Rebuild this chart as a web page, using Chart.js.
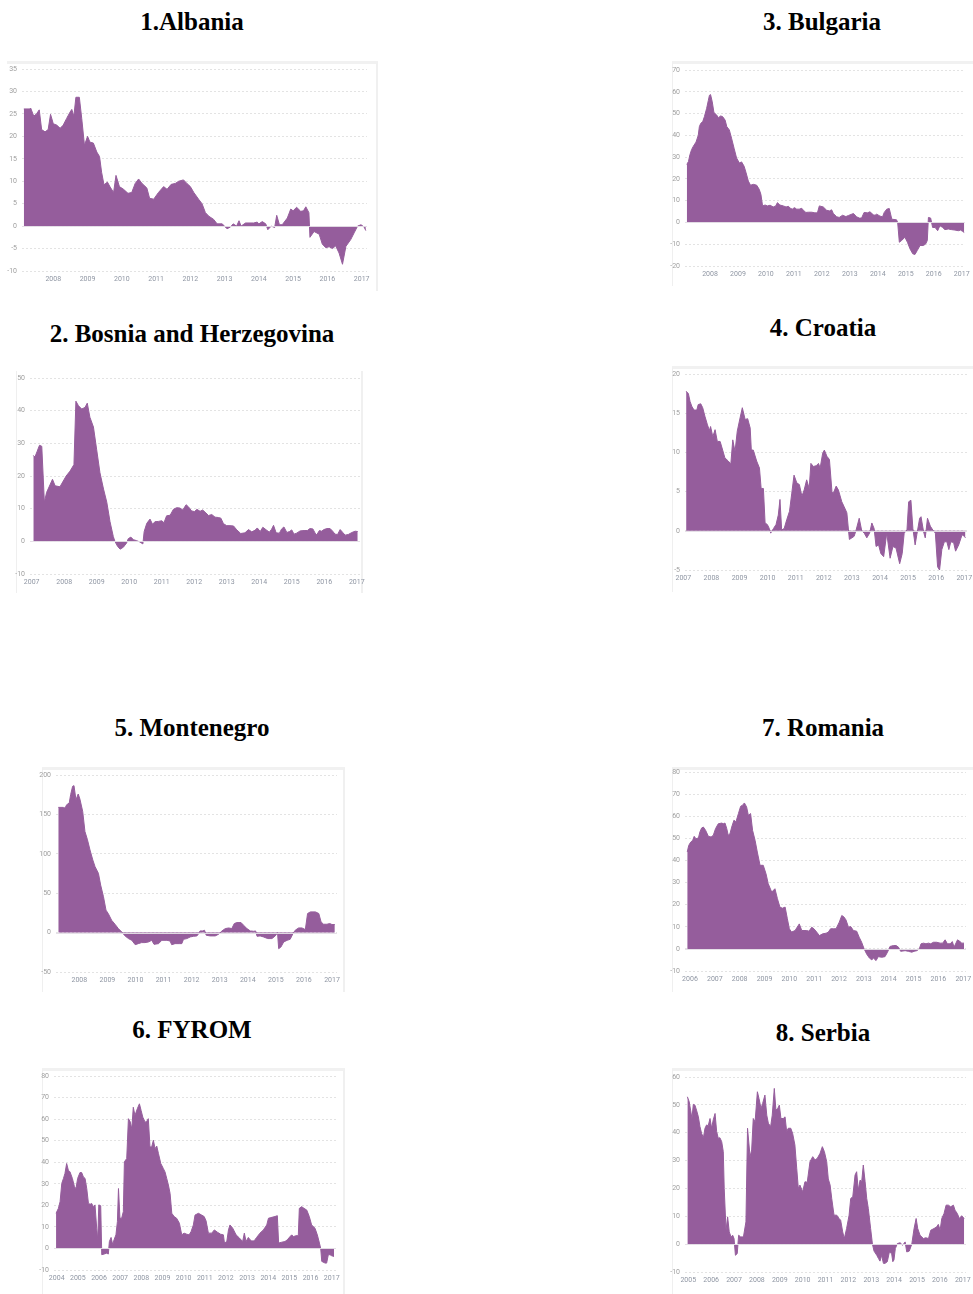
<!DOCTYPE html>
<html>
<head>
<meta charset="utf-8">
<title>Credit growth, Western Balkans and neighbours</title>
<script src="https://cdn.jsdelivr.net/npm/chart.js@4.4.0/dist/chart.umd.min.js"></script>
<style>
  body { margin: 0; background: #fff; width: 973px; height: 1294px; position: relative; overflow: hidden; }
  .title { position: absolute; width: 380px; text-align: center; font: bold 25px "Liberation Serif", "Times New Roman", serif; line-height: 24px; color: #000; }
  .frame { position: absolute; box-sizing: border-box; }
  canvas { position: absolute; }
</style>
</head>
<body>
<div id="page"></div>
<script>
// [year, value] pairs
const albaniaSeries = [[2007.14,26.1],[2007.32,26.1],[2007.34,26.3],[2007.43,24.5],[2007.51,25],[2007.59,25.9],[2007.66,21.5],[2007.76,21],[2007.85,21.5],[2007.92,24.9],[2008.00,22.8],[2008.10,22.5],[2008.20,21.8],[2008.29,22.5],[2008.39,24],[2008.49,25.4],[2008.54,26],[2008.60,24.5],[2008.66,28.7],[2008.76,28.7],[2008.83,24],[2008.91,18],[2009.00,20],[2009.07,18.7],[2009.17,18.5],[2009.27,16.5],[2009.35,15.5],[2009.41,12],[2009.48,9.2],[2009.58,9.8],[2009.66,8.7],[2009.76,7.5],[2009.83,11.3],[2009.93,8.8],[2010.05,8.2],[2010.18,7.3],[2010.29,7.5],[2010.39,9.5],[2010.49,10.5],[2010.59,9.5],[2010.73,8.5],[2010.81,6.2],[2010.93,6],[2011.07,7.5],[2011.22,8.8],[2011.32,8.2],[2011.44,9.3],[2011.56,9.5],[2011.66,10],[2011.80,10.3],[2011.90,9.5],[2012.00,8.8],[2012.10,7.5],[2012.24,6],[2012.34,5],[2012.44,3],[2012.54,2.2],[2012.68,1.5],[2012.78,0.5],[2012.93,0.5],[2013.07,-0.6],[2013.17,-0.2],[2013.25,0.5],[2013.35,0],[2013.42,1.2],[2013.48,0],[2013.61,0.7],[2013.85,0.7],[2013.95,0.9],[2014.00,0.5],[2014.10,1.0],[2014.20,0.5],[2014.26,-0.8],[2014.36,0],[2014.46,-0.3],[2014.52,2.4],[2014.60,0.3],[2014.68,0.3],[2014.83,1.8],[2014.93,3.8],[2015.00,3.4],[2015.10,4.2],[2015.22,3.3],[2015.30,3.4],[2015.37,4.3],[2015.46,3],[2015.49,-2.5],[2015.61,-1.2],[2015.76,-1.8],[2015.85,-4],[2015.95,-4.8],[2016.05,-4.6],[2016.15,-5],[2016.24,-4.4],[2016.34,-6],[2016.44,-8.5],[2016.54,-4.5],[2016.68,-3],[2016.78,-1.5],[2016.88,0],[2016.98,0.3],[2017.07,-0.2],[2017.12,-1.0]];

const bulgariaSeries = [[2007.17,26.6],[2007.23,28],[2007.28,31],[2007.34,33.4],[2007.40,34.9],[2007.50,36.9],[2007.58,40],[2007.62,44],[2007.67,45.5],[2007.74,46.3],[2007.80,48.6],[2007.88,52.4],[2007.94,56],[2007.98,58.4],[2008.02,58.7],[2008.08,55.4],[2008.14,50.5],[2008.24,49.3],[2008.30,48.1],[2008.38,48.9],[2008.45,48.6],[2008.54,47],[2008.60,44],[2008.69,42.5],[2008.77,38.7],[2008.86,34.1],[2008.95,29.6],[2009.05,27.3],[2009.13,27.8],[2009.22,25.8],[2009.29,22.8],[2009.37,19],[2009.45,17.1],[2009.55,17.5],[2009.67,17.1],[2009.76,15.2],[2009.82,12.9],[2009.88,7.6],[2009.97,8],[2010.05,7.6],[2010.15,7.9],[2010.26,7.1],[2010.35,7.6],[2010.41,9.1],[2010.50,8],[2010.62,7.6],[2010.72,7.1],[2010.80,7.4],[2010.88,6.5],[2010.94,6.1],[2011.02,6.8],[2011.10,6.1],[2011.19,6.1],[2011.28,6.5],[2011.36,5.3],[2011.43,4.6],[2011.52,4.7],[2011.64,4.7],[2011.75,4.4],[2011.84,4.4],[2011.91,7.6],[2012.05,7.1],[2012.17,5.6],[2012.27,5.3],[2012.35,5.8],[2012.41,4.1],[2012.53,2.6],[2012.62,2.3],[2012.74,3.3],[2012.86,2.7],[2012.95,3.2],[2013.13,4.1],[2013.24,2.6],[2013.34,2],[2013.42,2],[2013.51,4.6],[2013.63,4.4],[2013.72,4.9],[2013.84,3.5],[2013.90,3.3],[2013.96,3.8],[2014.08,2.9],[2014.17,2.6],[2014.23,4.6],[2014.32,6.1],[2014.41,6.4],[2014.50,1.5],[2014.67,1.2],[2014.71,0],[2014.77,-9.1],[2014.85,-8.3],[2014.97,-6.8],[2015.06,-9.1],[2015.15,-12.1],[2015.25,-14.4],[2015.33,-14.7],[2015.41,-12.9],[2015.51,-10.6],[2015.63,-10.6],[2015.71,-9.9],[2015.77,-8.3],[2015.81,2.3],[2015.89,2],[2015.96,-2.3],[2016.05,-2.3],[2016.14,-3.8],[2016.22,-1.5],[2016.32,-2.3],[2016.40,-3.3],[2016.52,-3],[2016.64,-3.3],[2016.76,-3.5],[2016.88,-3.8],[2016.96,-3.5],[2017.03,-4.1],[2017.09,-4.6]];

const bosniaSeries = [[2007.05,26.3],[2007.10,25.8],[2007.17,27.6],[2007.24,29.4],[2007.31,29.1],[2007.39,12],[2007.46,15],[2007.64,19],[2007.72,17],[2007.87,16.7],[2008.06,20],[2008.18,21.5],[2008.30,23.5],[2008.36,42.9],[2008.44,41.5],[2008.54,40.5],[2008.64,41],[2008.71,42.3],[2008.79,38],[2008.90,35],[2009.00,28],[2009.10,21],[2009.21,16],[2009.31,12],[2009.41,6],[2009.51,1.5],[2009.56,0],[2009.64,-1.5],[2009.72,-2.4],[2009.82,-1.8],[2009.92,-0.5],[2009.97,0.8],[2010.05,1.3],[2010.13,0.5],[2010.23,0.2],[2010.33,-0.2],[2010.42,-0.8],[2010.46,3],[2010.54,5.5],[2010.64,6.8],[2010.72,5.2],[2010.79,6],[2010.90,6.1],[2011.00,6.3],[2011.07,5.7],[2011.15,7.8],[2011.26,8],[2011.36,9.8],[2011.46,10.3],[2011.56,10.2],[2011.65,9.6],[2011.75,11.2],[2011.82,10.6],[2011.92,9.3],[2012.01,9.1],[2012.08,9.8],[2012.18,9.2],[2012.26,9.6],[2012.36,8.7],[2012.44,7.9],[2012.54,8.2],[2012.64,7.4],[2012.74,7.3],[2012.82,7.1],[2012.90,5.4],[2013.00,4.8],[2013.10,4.8],[2013.21,4.7],[2013.31,3.5],[2013.43,2.4],[2013.56,2.6],[2013.67,3.6],[2013.77,2.9],[2013.87,3.4],[2013.94,4.1],[2014.03,3],[2014.11,4.3],[2014.23,3.4],[2014.31,2.8],[2014.38,3.7],[2014.44,4.9],[2014.52,2.6],[2014.62,2.5],[2014.69,3.8],[2014.76,4.4],[2014.85,2.7],[2014.93,3],[2015.00,3.5],[2015.07,2.2],[2015.15,2.5],[2015.26,3.2],[2015.38,3.3],[2015.48,3.3],[2015.56,3.9],[2015.65,3.8],[2015.72,2.5],[2015.77,2],[2015.85,3.3],[2015.92,3.1],[2015.99,3.6],[2016.08,3.9],[2016.18,3.9],[2016.26,3.1],[2016.33,2.2],[2016.41,2.1],[2016.49,3.6],[2016.57,2.7],[2016.64,1.9],[2016.74,2.1],[2016.85,2.7],[2016.95,3.1],[2017.03,3]];

const croatiaSeries = [[2007.10,17.8],[2007.18,17.5],[2007.24,16.5],[2007.30,15.9],[2007.38,15.4],[2007.48,15.4],[2007.53,16.1],[2007.62,16.2],[2007.69,15.7],[2007.77,14.6],[2007.86,13.5],[2007.93,12.8],[2007.97,13.3],[2008.05,12],[2008.13,12.9],[2008.21,11.4],[2008.31,11.4],[2008.40,10.3],[2008.48,9.3],[2008.60,8.9],[2008.69,8.5],[2008.76,11.6],[2008.84,10.1],[2008.92,12.7],[2009.02,14.4],[2009.10,15.7],[2009.20,14.2],[2009.29,14.3],[2009.38,13.1],[2009.42,10.3],[2009.49,10.3],[2009.61,8.9],[2009.71,8],[2009.77,5.4],[2009.85,5.4],[2009.91,1],[2009.99,0.8],[2010.06,0.3],[2010.11,-0.3],[2010.21,0.3],[2010.30,0.8],[2010.38,2],[2010.44,4],[2010.50,0.1],[2010.59,0.3],[2010.68,1.4],[2010.78,2.5],[2010.86,4.8],[2010.94,7.1],[2011.04,6.1],[2011.13,5.9],[2011.22,4.4],[2011.30,5.2],[2011.39,6.5],[2011.48,5.4],[2011.54,8.6],[2011.63,8.2],[2011.73,8.3],[2011.81,8.6],[2011.87,8],[2011.96,9.9],[2012.02,10.3],[2012.11,9.5],[2012.20,9.1],[2012.29,5],[2012.34,4.8],[2012.44,5.7],[2012.52,5.2],[2012.64,3.7],[2012.72,3.1],[2012.82,2.3],[2012.91,-1.1],[2013.00,-0.9],[2013.08,-0.7],[2013.15,0.1],[2013.26,1.6],[2013.35,0],[2013.44,-0.3],[2013.53,-0.9],[2013.63,-0.3],[2013.71,1],[2013.79,0.3],[2013.86,-2],[2013.95,-1.8],[2014.03,-2.9],[2014.13,-3.3],[2014.24,-0.3],[2014.36,-3.5],[2014.46,-2],[2014.57,-2.2],[2014.70,-4.2],[2014.79,-2.9],[2014.86,-0.3],[2014.96,0.1],[2015.02,3.7],[2015.10,3.9],[2015.17,0.3],[2015.25,-1.8],[2015.31,-0.5],[2015.41,1.6],[2015.46,1.8],[2015.55,-0.1],[2015.61,-0.9],[2015.69,1.6],[2015.79,0.6],[2015.88,0.1],[2015.97,-0.3],[2016.05,-4.6],[2016.12,-5],[2016.20,-2.4],[2016.29,-1.4],[2016.38,-1.4],[2016.45,-2.4],[2016.52,-1.4],[2016.62,-1.5],[2016.69,-2.6],[2016.80,-1.8],[2016.92,-0.5],[2017.00,-0.7],[2017.04,-0.9]];

const montenegroSeries = [[2007.25,158.9],[2007.43,158.9],[2007.49,158],[2007.55,162.3],[2007.64,164.4],[2007.69,175],[2007.76,185.6],[2007.81,186.5],[2007.88,168.6],[2007.96,175.9],[2008.02,169.5],[2008.12,153.8],[2008.20,128.3],[2008.29,117.7],[2008.38,104.9],[2008.48,92.2],[2008.56,83.7],[2008.68,75.2],[2008.76,60.3],[2008.86,45.5],[2008.95,28.5],[2009.03,24.2],[2009.15,15.7],[2009.27,10.6],[2009.39,5.1],[2009.51,0.8],[2009.63,-4.2],[2009.75,-7.6],[2009.87,-9.8],[2009.99,-15.3],[2010.10,-14],[2010.22,-12.7],[2010.34,-12.7],[2010.46,-11.9],[2010.58,-9.8],[2010.66,-14.9],[2010.82,-14],[2010.94,-9.8],[2011.12,-9.8],[2011.23,-10.6],[2011.29,-15.3],[2011.41,-14],[2011.57,-14],[2011.65,-14],[2011.71,-8.5],[2011.83,-7.6],[2011.95,-5.5],[2012.07,-4.7],[2012.19,-4.2],[2012.25,-1.3],[2012.30,2.1],[2012.40,2.1],[2012.46,3],[2012.52,-3.4],[2012.66,-4.2],[2012.84,-4.2],[2012.96,-2.1],[2013.08,2.1],[2013.20,5.1],[2013.32,5.9],[2013.43,5.1],[2013.52,11.5],[2013.61,12.7],[2013.76,12.7],[2013.85,9.3],[2013.97,5.1],[2014.09,2.1],[2014.21,1.7],[2014.28,2.1],[2014.33,-4.7],[2014.44,-4.2],[2014.56,-5.5],[2014.71,-7.6],[2014.86,-7.6],[2014.98,-4.2],[2015.06,0],[2015.10,-20.4],[2015.18,-18.3],[2015.28,-11.9],[2015.40,-9.8],[2015.51,-8.5],[2015.61,-1.3],[2015.69,3],[2015.81,5.9],[2015.93,5.9],[2016.05,3.8],[2016.13,24.2],[2016.23,26.3],[2016.41,26.3],[2016.53,24.2],[2016.61,13.6],[2016.70,10.6],[2016.82,10.6],[2016.92,11.5],[2017.00,10.2],[2017.10,10.2]];

const romaniaSeries = [[2005.89,43.8],[2005.95,46.8],[2006.03,48.3],[2006.11,49.1],[2006.17,50.9],[2006.24,49.8],[2006.34,50.2],[2006.40,52.9],[2006.47,54.7],[2006.54,55.1],[2006.63,53.6],[2006.74,50.9],[2006.85,50.6],[2006.94,51.4],[2007.03,54.4],[2007.14,56.6],[2007.28,56.9],[2007.34,56.6],[2007.41,56.9],[2007.48,54.4],[2007.54,51.4],[2007.61,52.1],[2007.68,55.1],[2007.77,58.2],[2007.85,57.4],[2007.95,61.2],[2008.04,64.5],[2008.12,65],[2008.19,66],[2008.28,64.2],[2008.35,60.4],[2008.44,61.2],[2008.52,53.6],[2008.62,49.1],[2008.71,43.8],[2008.82,37.8],[2008.95,37.8],[2009.06,34],[2009.15,29.5],[2009.29,25.7],[2009.42,27.2],[2009.52,22.7],[2009.62,18.9],[2009.72,18.4],[2009.83,18.9],[2009.92,13.6],[2010.00,9.1],[2010.09,7.6],[2010.23,8.3],[2010.40,11.3],[2010.50,8.3],[2010.59,8.3],[2010.70,8.3],[2010.79,8],[2010.90,9.8],[2010.99,9.1],[2011.10,7.6],[2011.21,6],[2011.34,6.8],[2011.48,7.1],[2011.57,7.6],[2011.66,9.1],[2011.77,9.1],[2011.88,9.1],[2012.01,12.1],[2012.11,15.1],[2012.20,14.4],[2012.28,13.1],[2012.38,9.8],[2012.47,10.1],[2012.58,8.3],[2012.71,8],[2012.81,5.3],[2012.91,3],[2013.01,0],[2013.11,-2.3],[2013.22,-4.1],[2013.32,-5],[2013.38,-4.1],[2013.49,-5.3],[2013.58,-3.5],[2013.72,-3.8],[2013.85,-3.5],[2013.95,-1.5],[2014.05,1.1],[2014.19,1.5],[2014.30,1.5],[2014.39,0.8],[2014.48,-1.1],[2014.66,-0.8],[2014.79,-1.1],[2014.93,-1.5],[2015.02,-1.1],[2015.13,-0.8],[2015.23,0],[2015.30,2.3],[2015.40,2.6],[2015.50,2.3],[2015.60,2.6],[2015.69,2.3],[2015.80,3],[2015.93,3],[2016.07,2.6],[2016.17,2.6],[2016.27,4.1],[2016.36,2.3],[2016.47,2.3],[2016.56,3.3],[2016.63,0.8],[2016.77,4.1],[2016.87,3.3],[2016.94,2.6],[2017.03,2.6]];

const fyromSeries = [[2003.97,16.3],[2004.08,18.6],[2004.16,21.7],[2004.24,30.2],[2004.32,32.5],[2004.39,34.8],[2004.47,39.4],[2004.55,36.3],[2004.63,35.5],[2004.74,32.5],[2004.84,28.6],[2004.91,27.8],[2004.99,32.5],[2005.10,35.2],[2005.18,35.2],[2005.26,33.2],[2005.34,32.5],[2005.42,27.8],[2005.50,20.9],[2005.58,20.5],[2005.65,20.9],[2005.73,19.4],[2005.81,20.2],[2005.89,9.4],[2005.94,4],[2005.99,20.2],[2006.08,19.8],[2006.13,-2.9],[2006.24,-2.6],[2006.36,-2.2],[2006.44,-2.6],[2006.49,3.2],[2006.57,5.1],[2006.65,1.7],[2006.71,4],[2006.80,6.3],[2006.87,12.5],[2006.92,27.8],[2006.99,14],[2007.07,14],[2007.15,17.1],[2007.20,40.2],[2007.31,41.7],[2007.39,60.2],[2007.47,58.9],[2007.55,55.5],[2007.62,65.5],[2007.70,61.7],[2007.81,64.8],[2007.91,67.1],[2007.99,64],[2008.07,60.9],[2008.18,58.6],[2008.25,58.9],[2008.33,60.2],[2008.41,47.1],[2008.49,47.1],[2008.57,50.2],[2008.65,46.3],[2008.73,47.5],[2008.81,44],[2008.92,39.4],[2009.04,37.1],[2009.12,35.5],[2009.20,32.5],[2009.28,29.4],[2009.36,25.5],[2009.44,16.3],[2009.55,14.8],[2009.67,14],[2009.80,11.7],[2009.91,6.3],[2010.02,7.1],[2010.15,6.6],[2010.26,6.3],[2010.35,7.8],[2010.46,10.9],[2010.54,15.5],[2010.70,16.3],[2010.85,15.5],[2010.97,14.8],[2011.06,12.8],[2011.17,7.1],[2011.33,7.1],[2011.45,8.6],[2011.60,7.5],[2011.75,6.6],[2011.88,6.3],[2011.93,2.5],[2012.04,3.2],[2012.12,8.6],[2012.19,10.9],[2012.32,9.4],[2012.48,6.3],[2012.64,4.8],[2012.79,3.2],[2012.87,7.1],[2012.95,3.2],[2013.06,5.1],[2013.14,4],[2013.22,3.5],[2013.33,3.5],[2013.45,5.1],[2013.61,7.1],[2013.77,8.6],[2013.93,10.9],[2014.01,14],[2014.12,14.3],[2014.32,14.8],[2014.43,15.2],[2014.49,2.5],[2014.64,2.9],[2014.79,3.2],[2014.90,4],[2015.03,5.5],[2015.11,6.3],[2015.19,5.5],[2015.35,6],[2015.42,5.8],[2015.47,18.6],[2015.58,19.4],[2015.69,18.6],[2015.82,17.8],[2015.94,14.8],[2016.05,10.9],[2016.21,9.4],[2016.32,6.3],[2016.42,2.5],[2016.48,0],[2016.53,-6],[2016.69,-6.8],[2016.76,-6.8],[2016.84,-2.9],[2016.92,-2.9],[2017.00,-3.4],[2017.11,-3.7]];

const serbiaSeries = [[2004.96,52.9],[2005.04,51.1],[2005.10,48.1],[2005.16,45.1],[2005.22,50.2],[2005.29,49.9],[2005.36,48.1],[2005.44,45.7],[2005.51,42.2],[2005.58,39.8],[2005.66,38.2],[2005.73,41.6],[2005.80,42.8],[2005.87,42.5],[2005.95,45.1],[2006.02,41.6],[2006.09,44.6],[2006.17,46.9],[2006.24,40.4],[2006.31,38],[2006.38,38.2],[2006.46,36.8],[2006.53,33.2],[2006.57,20],[2006.65,5],[2006.72,9.8],[2006.79,4.4],[2006.87,2.6],[2006.94,3.2],[2007.00,2],[2007.06,-4],[2007.14,-3.4],[2007.20,3.2],[2007.29,2.6],[2007.41,2.6],[2007.52,8],[2007.59,41.6],[2007.70,31.4],[2007.77,33.8],[2007.84,45.1],[2007.92,43.9],[2008.02,54.7],[2008.09,52.3],[2008.18,48.7],[2008.25,50.5],[2008.35,53.5],[2008.43,46.3],[2008.50,43.4],[2008.60,42.2],[2008.67,46.3],[2008.76,55.9],[2008.83,48.1],[2008.91,48.7],[2008.98,49.9],[2009.05,45.1],[2009.15,45.1],[2009.23,45.7],[2009.30,40.4],[2009.37,41.6],[2009.48,41.6],[2009.56,39.8],[2009.66,35.6],[2009.74,27.2],[2009.81,20],[2009.88,21.2],[2010.00,18.8],[2010.10,22.4],[2010.20,22.2],[2010.32,29.6],[2010.44,31.4],[2010.54,30.2],[2010.64,30.8],[2010.76,32.6],[2010.86,35],[2010.95,33.2],[2011.05,29.6],[2011.12,23.4],[2011.20,21.2],[2011.27,16.4],[2011.37,10.4],[2011.49,10.4],[2011.59,9.2],[2011.66,8.6],[2011.75,4.4],[2011.82,2],[2011.92,5.6],[2012.03,10.4],[2012.10,16.4],[2012.19,17],[2012.29,24.8],[2012.36,26],[2012.43,19.4],[2012.51,23],[2012.58,22.4],[2012.65,28.4],[2012.73,22.4],[2012.80,16.4],[2012.87,12.8],[2012.97,5.6],[2013.05,0],[2013.12,-2.5],[2013.24,-4],[2013.31,-5.1],[2013.38,-6.1],[2013.45,-4],[2013.53,-6.9],[2013.60,-6.9],[2013.70,-6.3],[2013.79,-2.8],[2013.89,-3.4],[2013.94,-6.3],[2013.99,-5.7],[2014.05,-1.6],[2014.14,0.2],[2014.26,0.5],[2014.37,-0.4],[2014.48,0.8],[2014.55,-2.8],[2014.66,-2.5],[2014.77,0],[2014.87,5.6],[2014.96,9.2],[2015.03,5.6],[2015.13,3.2],[2015.28,2],[2015.38,2.3],[2015.50,2],[2015.60,5],[2015.74,5.6],[2015.86,6.2],[2015.93,7.1],[2016.01,5],[2016.08,9.2],[2016.18,11],[2016.27,14],[2016.37,14],[2016.47,13.4],[2016.59,14],[2016.66,12.2],[2016.76,11],[2016.85,9.2],[2016.95,10.2],[2017.06,9.2]];

// tick labels
const albaniaYears = [2008, 2009, 2010, 2011, 2012, 2013, 2014, 2015, 2016, 2017];
const bulgariaYears = [2008, 2009, 2010, 2011, 2012, 2013, 2014, 2015, 2016, 2017];
const bosniaYears = [2007, 2008, 2009, 2010, 2011, 2012, 2013, 2014, 2015, 2016, 2017];
const croatiaYears = [2007, 2008, 2009, 2010, 2011, 2012, 2013, 2014, 2015, 2016, 2017];
const montenegroYears = [2008, 2009, 2010, 2011, 2012, 2013, 2014, 2015, 2016, 2017];
const romaniaYears = [2006, 2007, 2008, 2009, 2010, 2011, 2012, 2013, 2014, 2015, 2016, 2017];
const fyromYears = [2004, 2005, 2006, 2007, 2008, 2009, 2010, 2011, 2012, 2013, 2014, 2015, 2016, 2017];
const serbiaYears = [2005, 2006, 2007, 2008, 2009, 2010, 2011, 2012, 2013, 2014, 2015, 2016, 2017];

const albaniaTicks = [-10, -5, 0, 5, 10, 15, 20, 25, 30, 35];
const bulgariaTicks = [-20, -10, 0, 10, 20, 30, 40, 50, 60, 70];
const bosniaTicks = [-10, 0, 10, 20, 30, 40, 50];
const croatiaTicks = [-5, 0, 5, 10, 15, 20];
const montenegroTicks = [-50, 0, 50, 100, 150, 200];
const romaniaTicks = [-10, 0, 10, 20, 30, 40, 50, 60, 70, 80];
const fyromTicks = [-10, 0, 10, 20, 30, 40, 50, 60, 70, 80];
const serbiaTicks = [-10, 0, 10, 20, 30, 40, 50, 60];

const titles = ["1.Albania", "3. Bulgaria", "2. Bosnia and Herzegovina", "4. Croatia", "5. Montenegro", "7. Romania", "6. FYROM", "8. Serbia"];

const purple = "#955d9c";

// layout of each panel on the page; frame edges: t=top band, l=left, r=right
const panels = [
	{ title: titles[0], cx: 192, cy: 22, frame: [7, 61, 371, 230], edges: "tr", series: albaniaSeries, years: albaniaYears, ticks: albaniaTicks, xMin: 2007.087, xMax: 2017.155, left: 7, plotLeft: 22, plotRight: 367, plotTop: 69, plotBottom: 271 },
	{ title: titles[1], cx: 822, cy: 22, frame: [672, 61, 303, 225], edges: "tl", series: bulgariaSeries, years: bulgariaYears, ticks: bulgariaTicks, xMin: 2007.106, xMax: 2017.118, left: 668, plotLeft: 685, plotRight: 965, plotTop: 70, plotBottom: 266 },
	{ title: titles[2], cx: 192, cy: 334, frame: [16, 371, 347, 222], edges: "lr", series: bosniaSeries, years: bosniaYears, ticks: bosniaTicks, xMin: 2006.948, xMax: 2017.10, left: 12, plotLeft: 30, plotRight: 360, plotTop: 378, plotBottom: 574 },
	{ title: titles[3], cx: 823, cy: 328, frame: [672, 366, 303, 226], edges: "tl", series: croatiaSeries, years: croatiaYears, ticks: croatiaTicks, xMin: 2007.06, xMax: 2017.096, left: 668, plotLeft: 685, plotRight: 967, plotTop: 374, plotBottom: 570 },
	{ title: titles[4], cx: 192, cy: 728, frame: [42, 767, 303, 225], edges: "tlr", series: montenegroSeries, years: montenegroYears, ticks: montenegroTicks, xMin: 2007.169, xMax: 2017.178, left: 38, plotLeft: 56, plotRight: 337, plotTop: 775, plotBottom: 972 },
	{ title: titles[5], cx: 823, cy: 728, frame: [672, 767, 303, 225], edges: "tl", series: romaniaSeries, years: romaniaYears, ticks: romaniaTicks, xMin: 2005.80, xMax: 2017.11, left: 668, plotLeft: 685, plotRight: 966, plotTop: 772, plotBottom: 971 },
	{ title: titles[6], cx: 192, cy: 1030, frame: [42, 1068, 303, 226], edges: "tlr", series: fyromSeries, years: fyromYears, ticks: fyromTicks, xMin: 2003.872, xMax: 2017.203, left: 38, plotLeft: 54, plotRight: 336, plotTop: 1076, plotBottom: 1270 },
	{ title: titles[7], cx: 823, cy: 1033, frame: [672, 1068, 303, 226], edges: "tl", series: serbiaSeries, years: serbiaYears, ticks: serbiaTicks, xMin: 2004.856, xMax: 2017.14, left: 668, plotLeft: 685, plotRight: 966, plotTop: 1077, plotBottom: 1272 }
];

// light zero line drawn over the filled area
const zeroLine = {
	id: "zeroLine",
	afterDatasetsDraw(chart) {
		const ctx = chart.ctx;
		const y = Math.round(chart.scales.y.getPixelForValue(0)) + 0.5;
		ctx.save();
		ctx.strokeStyle = "rgba(228,222,230,0.95)";
		ctx.lineWidth = 1;
		ctx.beginPath();
		ctx.moveTo(chart.chartArea.left, y);
		ctx.lineTo(chart.chartArea.right, y);
		ctx.stroke();
		ctx.restore();
	}
};

const page = document.getElementById("page");
const PAD_TOP = 10, PAD_RIGHT = 10, X_AXIS_H = 16;

panels.forEach(function (p) {
	const t = document.createElement("div");
	t.className = "title";
	t.textContent = p.title;
	t.style.left = (p.cx - 190) + "px";
	t.style.top = (p.cy - 12) + "px";
	page.appendChild(t);

	const f = document.createElement("div");
	f.className = "frame";
	f.style.left = p.frame[0] + "px";
	f.style.top = p.frame[1] + "px";
	f.style.width = p.frame[2] + "px";
	f.style.height = p.frame[3] + "px";
	if (p.edges.includes("t")) f.style.borderTop = "3px solid #f1f1f1";
	if (p.edges.includes("l")) f.style.borderLeft = "1px solid #efefef";
	if (p.edges.includes("r")) f.style.borderRight = "2px solid #f0f0f0";
	page.appendChild(f);

	const top = p.plotTop - PAD_TOP;
	const canvas = document.createElement("canvas");
	canvas.width = p.plotRight + PAD_RIGHT - p.left;
	canvas.height = p.plotBottom + X_AXIS_H - top;
	canvas.style.left = p.left + "px";
	canvas.style.top = top + "px";
	page.appendChild(canvas);

	new Chart(canvas.getContext("2d"), {
		type: "line",
		data: {
			datasets: [{
				data: p.series.map((d) => ({ x: d[0], y: d[1] })),
				fill: "origin",
				backgroundColor: purple,
				borderColor: purple,
				borderWidth: 1,
				pointRadius: 0,
				tension: 0
			}]
		},
		options: {
			responsive: false,
			animation: false,
			events: [],
			layout: { padding: { top: PAD_TOP, right: PAD_RIGHT, left: 0, bottom: 0 } },
			plugins: { legend: { display: false }, tooltip: { enabled: false } },
			scales: {
				x: {
					type: "linear",
					min: p.xMin,
					max: p.xMax,
					afterBuildTicks: (s) => { s.ticks = p.years.map((v) => ({ value: v })); },
					afterFit: (s) => { s.height = X_AXIS_H; },
					grid: { display: false, drawTicks: false },
					border: { display: false },
					ticks: { autoSkip: false, maxRotation: 0, padding: 4, color: "#8f96a3", font: { family: "Roboto", size: 7 }, callback: (v) => String(v) }
				},
				y: {
					min: p.ticks[0],
					max: p.ticks[p.ticks.length - 1],
					afterBuildTicks: (s) => { s.ticks = p.ticks.map((v) => ({ value: v })); },
					afterFit: (s) => { s.width = p.plotLeft - p.left; },
					grid: { color: "#e3e3e3", drawTicks: false },
					border: { display: false, dash: [2, 2] },
					ticks: { padding: 5, color: "#a0a0a0", font: { family: "Roboto", size: 7 }, callback: (v) => String(v) }
				}
			}
		},
		plugins: [zeroLine]
	});
});
</script>
</body>
</html>
